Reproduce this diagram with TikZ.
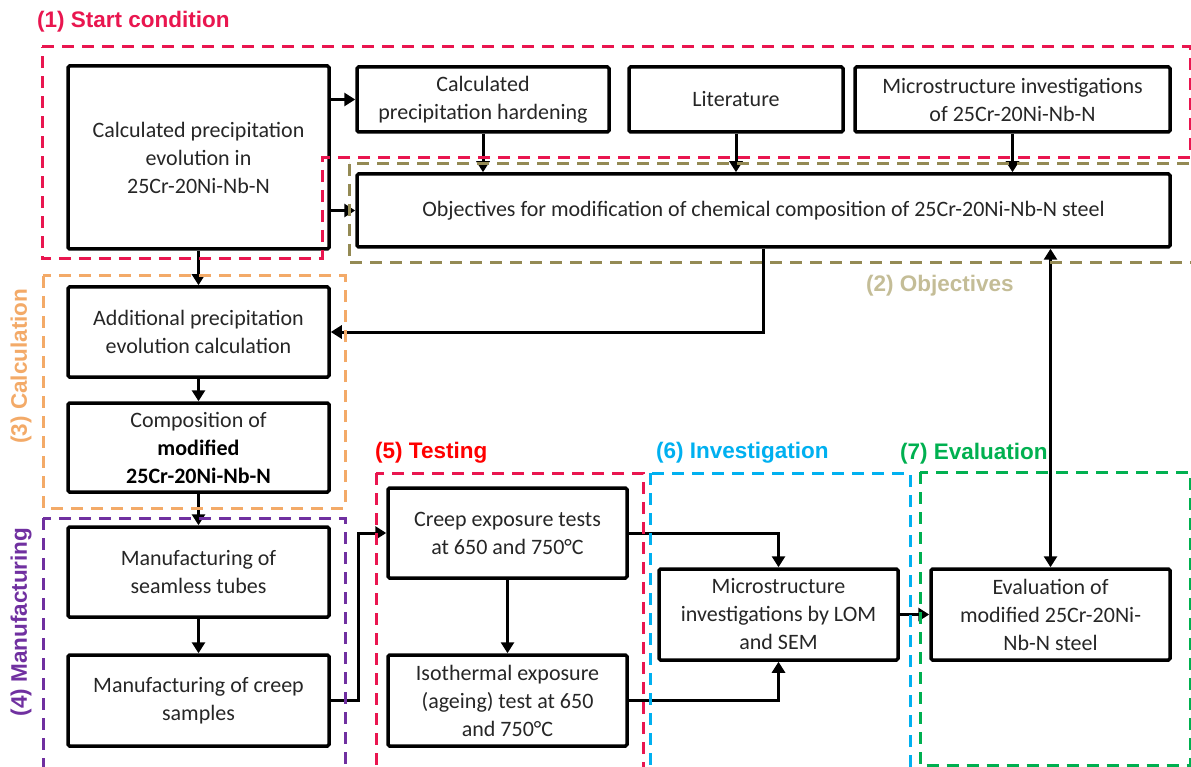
\documentclass[tikz,border=0pt]{standalone}
\usepackage{fontspec}
\setmainfont{Carlito}
\newfontfamily\headfont{Liberation Sans}
\usetikzlibrary{arrows.meta}

\definecolor{bodytxt}{HTML}{262626}
\definecolor{startred}{HTML}{E9164F}
\definecolor{objolive}{HTML}{948A54}
\definecolor{objlabel}{HTML}{C4BD97}
\definecolor{calcorange}{HTML}{F3AA68}
\definecolor{manpurple}{HTML}{7030A0}
\definecolor{testred}{HTML}{FF0000}
\definecolor{invblue}{HTML}{00B0F0}
\definecolor{evalgreen}{HTML}{00B050}

\tikzset{
  stepbox/.style={draw=black, line width=3.5pt, rounded corners=1.5pt,
    align=center, inner sep=0pt, text=bodytxt,
    font=\fontsize{22}{28}\selectfont},
  flow/.style={line width=3pt, -{Triangle[length=11pt,width=13pt]}},
  bothflow/.style={line width=3pt, {Triangle[length=11pt,width=13pt]}-{Triangle[length=11pt,width=13pt]}},
  phase/.style={line width=3pt, dash pattern=on 12pt off 8pt},
  phaselabel/.style={font=\headfont\bfseries\fontsize{22.5}{26}\selectfont, inner sep=0pt},
}

\begin{document}
\begin{tikzpicture}[x=1pt, y=-1pt]
\useasboundingbox (0,0) rectangle (1191,767);
\clip (0,0) rectangle (1191,767);

% phase titles
\node[phaselabel, text=startred, anchor=west] (t1) at (37,22) {(1) Start condition};
\node[phaselabel, text=objlabel, anchor=west] (t2) at (866,286) {(2) Objectives};
\node[phaselabel, text=calcorange, rotate=90] (t3) at (21,366) {(3) Calculation};
\node[phaselabel, text=manpurple, rotate=90] (t4) at (21,622) {(4) Manufacturing};
\node[phaselabel, text=testred, anchor=west] (t5) at (375,453) {(5) Testing};
\node[phaselabel, text=invblue, anchor=west] (t6) at (656,453) {(6) Investigation};
\node[phaselabel, text=evalgreen, anchor=west] (t7) at (900,454) {(7) Evaluation};

% process steps
\node[stepbox, minimum width=261pt, minimum height=183pt] (A) at (198.5,157.5)
  {Calculated precipitation\\evolution in\\25Cr-20Ni-Nb-N};
\node[stepbox, minimum width=252pt, minimum height=65pt] (B) at (483,99.5)
  {Calculated\\precipitation hardening};
\node[stepbox, minimum width=214pt, minimum height=65pt] (C) at (736,99.5)
  {Literature};
\node[stepbox, minimum width=315pt, minimum height=65pt] (D) at (1012.5,99.5)
  {Microstructure investigations\\of 25Cr-20Ni-Nb-N};
\node[stepbox, minimum width=813pt, minimum height=73pt] (E) at (763.5,210.5)
  {Objectives for modification of chemical composition of 25Cr-20Ni-Nb-N steel};
\node[stepbox, minimum width=261pt, minimum height=90pt] (F) at (198.5,332)
  {Additional precipitation\\evolution calculation};
\node[stepbox, minimum width=261pt, minimum height=89pt] (H) at (198.5,447.5)
  {Composition of\\{\color{black}\bfseries modified}\\{\color{black}\bfseries 25Cr-20Ni-Nb-N}};
\node[stepbox, minimum width=261pt, minimum height=90pt] (I) at (198.5,572)
  {Manufacturing of\\seamless tubes};
\node[stepbox, minimum width=261pt, minimum height=91pt] (J) at (198.5,700.5)
  {Manufacturing of creep\\samples};
\node[stepbox, minimum width=239pt, minimum height=90pt] (K) at (507.5,533)
  {Creep exposure tests\\at 650 and 750°C};
\node[stepbox, minimum width=239pt, minimum height=91pt] (L) at (507.5,700.5)
  {Isothermal exposure\\(ageing) test at 650\\and 750°C};
\node[stepbox, minimum width=239pt, minimum height=91pt] (M) at (778.5,614.5)
  {Microstructure\\investigations by LOM\\and SEM};
\node[stepbox, minimum width=239pt, minimum height=91pt] (G) at (1050.5,614.5)
  {Evaluation of\\modified 25Cr-20Ni-\\Nb-N steel};

% connectors
\draw[flow] (A.east |- B.west) -- (B.west);
\draw[flow] (A.east |- E.west) -- (E.west);
\draw[flow] (B.south) -- (B.south |- E.north);
\draw[flow] (C.south) -- (C.south |- E.north);
\draw[flow] (D.south) -- (D.south |- E.north);
\draw[flow] (E.south) |- (F.east);
\draw[bothflow] (E.south -| G.north) -- (G.north);
\draw[flow] (A.south) -- (F.north);
\draw[flow] (F.south) -- (H.north);
\draw[flow] (H.south) -- (I.north);
\draw[flow] (I.south) -- (J.north);
\coordinate (jk) at (358,700.5);
\draw[flow] (J.east) -- (jk) |- (K.west);
\draw[flow] (K.south) -- (L.north);
\draw[flow] (K.east) -| (M.north);
\draw[flow] (L.east) -| (M.south);
\draw[flow] (M.east) -- (G.west);

% phase frames
\draw[phase, startred] (42,47) -- (1190.5,47) -- (1190.5,158) -- (322,158) -- (322,259) -- (42,259) -- cycle;
\draw[phase, objolive] (349,164) rectangle (1200,263);
\draw[phase, calcorange] (43,276) rectangle (345,508);
\draw[phase, manpurple] (43,518) rectangle (345,790);
\draw[phase, startred] (376,473) rectangle (643,790);
\draw[phase, invblue] (650,473) rectangle (910,790);
\draw[phase, evalgreen] (920,472) rectangle (1190.5,765.5);
\end{tikzpicture}
\end{document}
